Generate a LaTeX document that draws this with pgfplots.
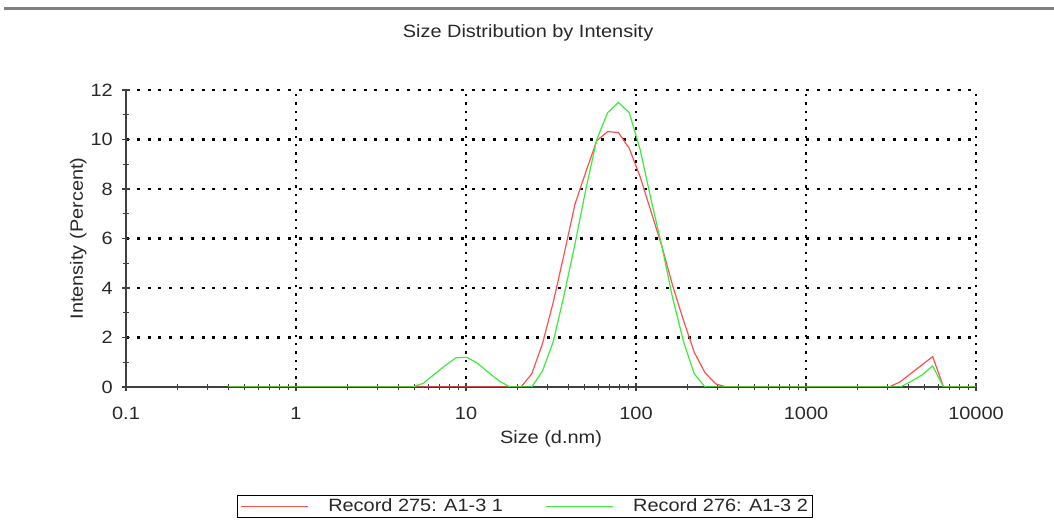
\documentclass[border=0pt]{standalone}
\usepackage{pgfplots}
\pgfplotsset{compat=1.18}
\usepackage{fontspec}
\setmainfont{Liberation Sans}[FakeStretch=1.12]
\definecolor{redline}{RGB}{255,80,80}
\definecolor{greenline}{RGB}{60,235,60}
\definecolor{axgray}{RGB}{64,64,64}
\definecolor{txt}{RGB}{40,40,40}
\begin{document}
\fontsize{17.8}{21}\selectfont
\begin{tikzpicture}
\path[use as bounding box] (0pt,0pt) rectangle (1054pt,529pt);
\draw[line width=3pt, color=black!50] (4pt,520pt) -- (1054pt,520pt);
\begin{axis}[
  at={(126pt,142pt)}, anchor=south west,
  scale only axis, width=850pt, height=297pt,
  xmode=log, xmin=0.1, xmax=10000, ymin=0, ymax=12,
  axis x line=bottom, axis y line=left,
  axis line style={-, axgray, line width=1.3pt},
  xtick={0.1,1,10,100,1000,10000},
  xticklabels={0.1,1,10,100,1000,10000},
  ytick={0,2,4,6,8,10,12},
  minor ytick={1,3,5,7,9,11},
  tick align=center,
  major tick length=8pt, minor tick length=6pt,
  every tick/.style={axgray, line width=1.2pt},
  grid=major,
  major grid style={black, line width=2.2pt},
  every axis x grid/.append style={dash pattern=on 2.4pt off 5.9pt},
  every axis y grid/.append style={dash pattern=on 3pt off 7.8pt},
  /pgf/number format/assume math mode=true,
  tick label style={font=\fontsize{17.8}{21}\selectfont, text=txt},
  xticklabel style={anchor=base, inner sep=0pt, yshift=-29pt},
  yticklabel style={anchor=east, inner sep=0pt, xshift=-9pt},
  title={Size Distribution by Intensity},
  title style={at={(axis description cs:0.473,1.1566)}, anchor=base, font=\fontsize{17.8}{21}\selectfont, text=txt},
  xlabel={Size (d.nm)},
  xlabel style={at={(axis description cs:0.5,-0.1886)}, anchor=base, font=\fontsize{17.8}{21}\selectfont, text=txt},
  ylabel={Intensity (Percent)},
  ylabel style={at={(axis description cs:-0.0506,0.5)}, anchor=base, rotate=0, font=\fontsize{17.8}{21}\selectfont, text=txt},
  legend columns=2,
  legend style={at={(axis description cs:0.4694,-0.4024)}, anchor=center, draw=black, line width=1pt,
    inner xsep=3pt, inner ysep=1pt, font=\fontsize{17.8}{21}\selectfont, text=txt,
    /tikz/every odd column/.append style={column sep=18pt},
    /tikz/every even column/.append style={column sep=40pt}},
  legend image code/.code={\draw[#1] (0pt,0pt) -- (67pt,0pt);},
]
\addplot[redline, line width=1.2pt] coordinates {
(0.4,0) (0.4632,0) (0.5365,0) (0.6213,0) (0.7195,0) (0.8332,0) (0.9650,0) (1.117,0) (1.294,0) (1.499,0)
(1.736,0) (2.010,0) (2.328,0) (2.696,0) (3.122,0) (3.615,0) (4.187,0) (4.849,0) (5.615,0) (6.503,0)
(7.531,0) (8.721,0) (10.10,0) (11.70,0) (13.54,0) (15.69,0) (18.17,0) (21.04,0) (24.36,0.53) (28.21,1.76)
(32.67,3.45) (37.84,5.4) (43.82,7.4) (50.75,8.7) (58.77,9.95) (68.06,10.32) (78.82,10.28) (91.28,9.64) (105.7,8.5) (122.4,7.1)
(141.8,5.7) (164.2,4.1) (190.1,2.7) (220.2,1.4) (255.0,0.57) (295.3,0.12) (342.0,0) (396.1,0) (458.7,0) (531.2,0)
(615.1,0) (712.4,0) (825.0,0) (955.4,0) (1106,0) (1281,0) (1484,0) (1718,0) (1990,0) (2305,0)
(2669,0) (3091,0) (3580,0.21) (4145,0.55) (4801,0.89) (5560,1.23) (6439,0) (7456,0) (8635,0) (10000,0)
};
\addlegendentry{Record 275: A1-3 1}
\addplot[greenline, line width=1.2pt] coordinates {
(0.4,0) (0.4632,0) (0.5365,0) (0.6213,0) (0.7195,0) (0.8332,0) (0.9650,0) (1.117,0) (1.294,0) (1.499,0)
(1.736,0) (2.010,0) (2.328,0) (2.696,0) (3.122,0) (3.615,0) (4.187,0) (4.849,0) (5.615,0.15) (6.503,0.51)
(7.531,0.86) (8.721,1.18) (10.10,1.2) (11.70,0.96) (13.54,0.59) (15.69,0.24) (18.17,0) (21.04,0) (24.36,0) (28.21,0.65)
(32.67,1.85) (37.84,3.75) (43.82,5.8) (50.75,8.0) (58.77,10.0) (68.06,11.08) (78.82,11.5) (91.28,11.08) (105.7,9.6) (122.4,7.6)
(141.8,5.7) (164.2,3.6) (190.1,1.85) (220.2,0.53) (255.0,0) (295.3,0) (342.0,0) (396.1,0) (458.7,0) (531.2,0)
(615.1,0) (712.4,0) (825.0,0) (955.4,0) (1106,0) (1281,0) (1484,0) (1718,0) (1990,0) (2305,0)
(2669,0) (3091,0) (3580,0) (4145,0.22) (4801,0.48) (5560,0.85) (6439,0) (7456,0) (8635,0) (10000,0)
};
\addlegendentry{Record 276: A1-3 2}
\end{axis}
\end{tikzpicture}
\end{document}
